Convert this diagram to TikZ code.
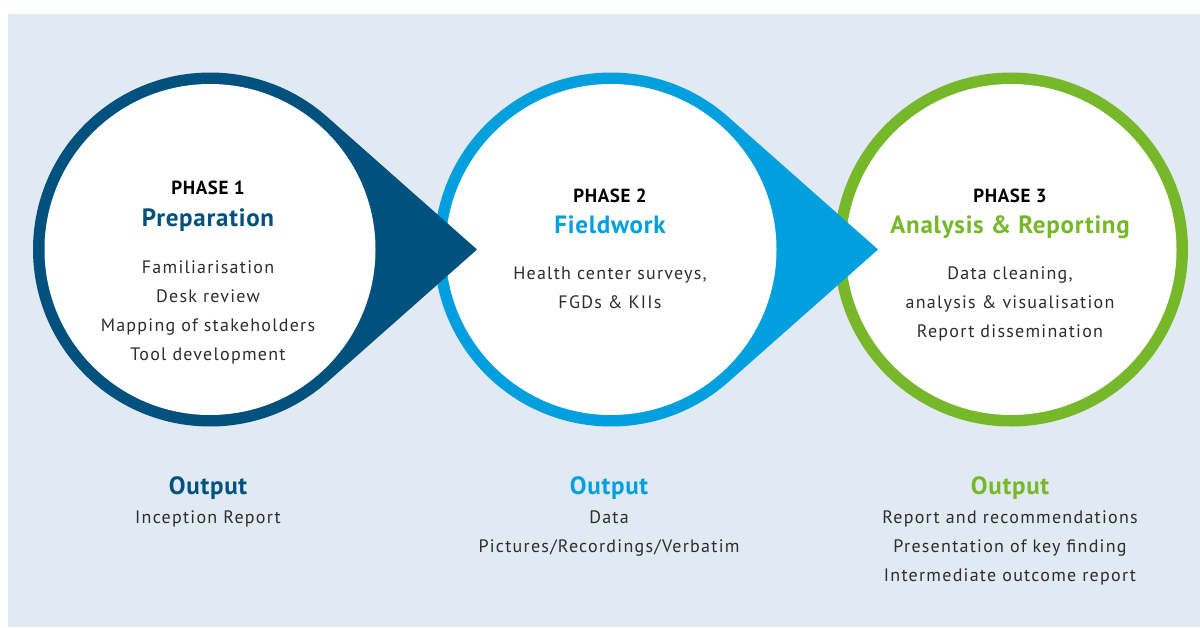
\documentclass[tikz,border=0pt]{standalone}
\usepackage{fontspec}
\setmainfont{PT Sans}[LetterSpace=3]
\newfontfamily\bodyfont{PT Sans}[LetterSpace=7]
\definecolor{bgpanel}{RGB}{225,233,242}
\definecolor{navyph}{RGB}{0,81,126}
\definecolor{skyph}{RGB}{0,160,222}
\definecolor{greenph}{RGB}{119,184,42}
\definecolor{bodytext}{RGB}{45,45,45}
\tikzset{
  disc/.style={circle, fill=white, inner sep=0pt, outer sep=0pt, minimum size=331pt},
  phaselbl/.style={anchor=base, font=\fontsize{19}{19}\selectfont\bfseries, text=black, inner sep=0pt},
  titlelbl/.style={anchor=base, font=\fontsize{25}{25}\selectfont\bfseries, inner sep=0pt},
  bodylbl/.style={anchor=base, font=\bodyfont\fontsize{18}{18}\selectfont, text=bodytext, inner sep=0pt},
}
\begin{document}
\begin{tikzpicture}[x=1pt,y=-1pt]
\useasboundingbox (0,0) rectangle (1200,627);
\fill[bgpanel] (8,14) rectangle (1200,627);
% circle centres and arrow tips
\coordinate (c1) at (210,249.5);
\coordinate (c2) at (611,249.5);
\coordinate (c3) at (1011,249.5);
\coordinate (t1) at (477,249.5);
\coordinate (t2) at (878,249.5);
% phase 3 ring
\fill[greenph] (c3) circle[radius=177];
\node[disc] (d3) at (c3) {};
% phase 2 ring with pointer
\fill[skyph] (t2) -- ([shift={(48.5:177)}]c2) arc[start angle=48.5, end angle=311.5, radius=177] -- cycle;
\node[disc] (d2) at (c2) {};
% phase 1 ring with pointer
\fill[navyph] (t1) -- ([shift={(48.5:177)}]c1) arc[start angle=48.5, end angle=311.5, radius=177] -- cycle;
\node[disc] (d1) at (c1) {};
% phase 1 text
\node[phaselbl] (p1) at (208,194) {PHASE 1};
\node[titlelbl, text=navyph] (h1) at (208,226) {Preparation};
\node[bodylbl] (a1) at (208,273) {Familiarisation};
\node[bodylbl] (a2) at (208,302) {Desk review};
\node[bodylbl] (a3) at (208,331) {Mapping of stakeholders};
\node[bodylbl] (a4) at (208,360) {Tool development};
% phase 2 text
\node[phaselbl] (p2) at (610,202) {PHASE 2};
\node[titlelbl, text=skyph] (h2) at (610,233) {Fieldwork};
\node[bodylbl] (b1) at (610,279) {Health center surveys,};
\node[bodylbl] (b2) at (610,308) {FGDs \& KIIs};
% phase 3 text
\node[phaselbl] (p3) at (1010,202) {PHASE 3};
\node[titlelbl, text=greenph] (h3) at (1010,233) {Analysis \& Reporting};
\node[bodylbl] (e1) at (1010,279) {Data cleaning,};
\node[bodylbl] (e2) at (1010,308) {analysis \& visualisation};
\node[bodylbl] (e3) at (1010,337) {Report dissemination};
% outputs
\node[titlelbl, text=navyph] (o1) at (208,494) {Output};
\node[bodylbl] (o1a) at (208,523) {Inception Report};
\node[titlelbl, text=skyph] (o2) at (609,494) {Output};
\node[bodylbl] (o2a) at (609,523) {Data};
\node[bodylbl] (o2b) at (609,552) {Pictures/Recordings/Verbatim};
\node[titlelbl, text=greenph] (o3) at (1010,494) {Output};
\node[bodylbl] (o3a) at (1010,523) {Report and recommendations};
\node[bodylbl] (o3b) at (1010,552) {Presentation of key finding};
\node[bodylbl] (o3c) at (1010,581) {Intermediate outcome report};
\end{tikzpicture}
\end{document}
